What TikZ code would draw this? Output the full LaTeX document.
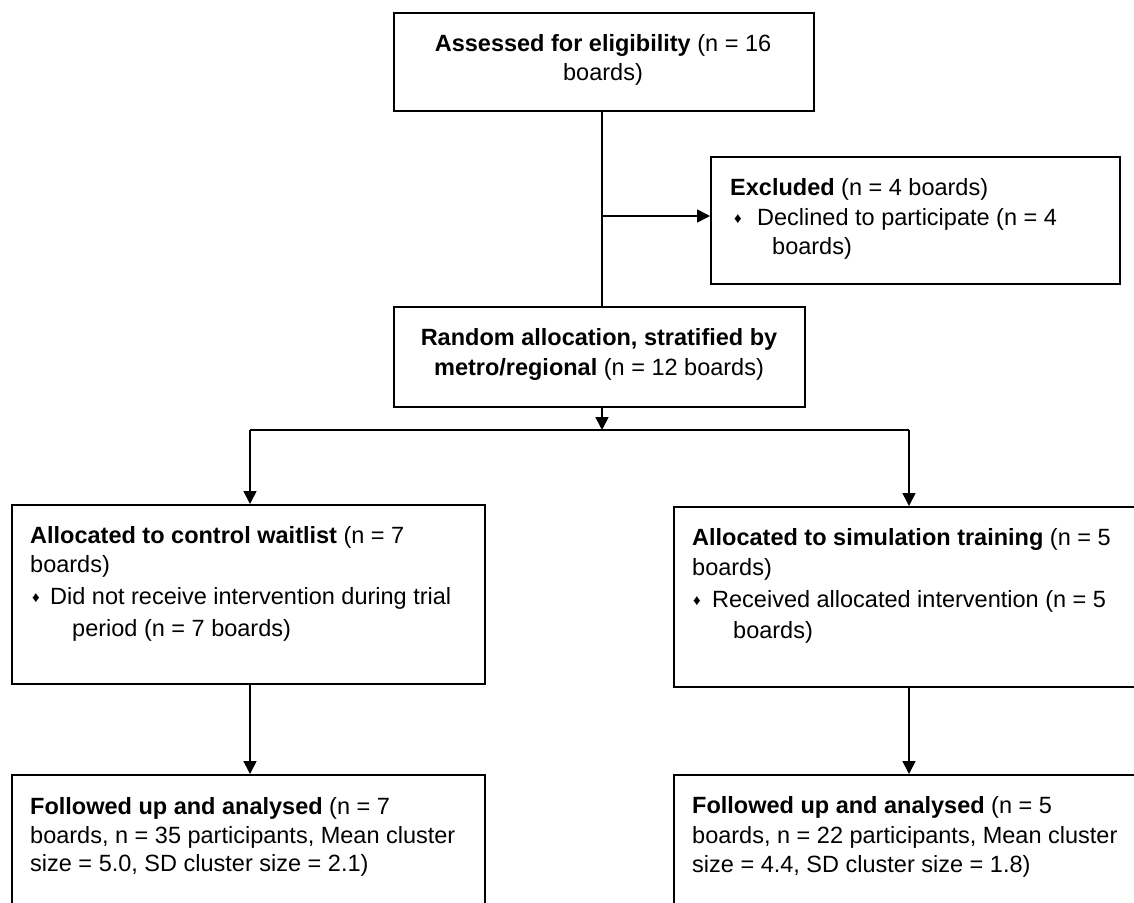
\documentclass[tikz,border=0pt]{standalone}
\usepackage{fontspec}
\setmainfont{Liberation Sans}
\usetikzlibrary{arrows.meta}
\newcommand{\bul}{{\fontsize{15}{15}\selectfont\raisebox{0.2ex}{♦}}}
\begin{document}
\begin{tikzpicture}[x=1pt,y=-1pt,
  box/.style={draw, line width=1.6pt, inner sep=0pt, anchor=north west},
  txt/.style={inner sep=0pt, font=\fontsize{23.5}{29}\selectfont},
  lt/.style={txt, anchor=base west},
  ct/.style={txt, anchor=base},
  ln/.style={line width=1.6pt},
  arr/.style={line width=1.6pt, -{Triangle[length=13pt,width=13pt]}}]
\useasboundingbox (0,0) rectangle (1134,902);
\clip (0,0) rectangle (1134,902);
% boxes
\node[box, minimum width=420pt, minimum height=98pt]  (assess) at (393,12)  {};
\node[box, minimum width=409pt, minimum height=127pt] (excl)   at (710,156) {};
\node[box, minimum width=411pt, minimum height=100pt] (rand)   at (393,306) {};
\node[box, minimum width=473pt, minimum height=179pt] (ctrl)   at (11,504)  {};
\node[box, minimum width=473pt, minimum height=180pt] (sim)    at (673,506) {};
\node[box, minimum width=473pt, minimum height=160pt] (fl)     at (11,774)  {};
\node[box, minimum width=473pt, minimum height=160pt] (fr)     at (673,774) {};
% texts
\node[ct] (t1a) at (603,51.5) {\textbf{Assessed for eligibility} (n = 16};
\node[ct] (t1b) at (603,80.5) {boards)};
\node[lt] (e1) at (730,195.5) {\textbf{Excluded} (n = 4 boards)};
\node[lt] (e2b) at (734,225.5) {\bul};
\node[lt] (e2) at (757,225.5) {Declined to participate (n = 4};
\node[lt] (e3) at (772,254.5) {boards)};
\node[ct] (r1) at (599,345.5) {\textbf{Random allocation, stratified by}};
\node[ct] (r2) at (599,375.5) {\textbf{metro/regional} (n = 12 boards)};
\node[lt] (c1) at (30,543.5) {\textbf{Allocated to control waitlist} (n = 7};
\node[lt] (c2) at (30,572.5) {boards)};
\node[lt] (c3b) at (32,604.5) {\bul};
\node[lt] (c3) at (50,604.5) {Did not receive intervention during trial};
\node[lt] (c4) at (72,636.5) {period (n = 7 boards)};
\node[lt] (s1) at (692,545.5) {\textbf{Allocated to simulation training} (n = 5};
\node[lt] (s2) at (692,575.5) {boards)};
\node[lt] (s3b) at (693,607.5) {\bul};
\node[lt] (s3) at (712,607.5) {Received allocated intervention (n = 5};
\node[lt] (s4) at (733,638.5) {boards)};
\node[lt] (f1) at (30,814.5) {\textbf{Followed up and analysed} (n = 7};
\node[lt] (f2) at (30,843.5) {boards, n = 35 participants, Mean cluster};
\node[lt] (f3) at (30,871.5) {size = 5.0, SD cluster size = 2.1)};
\node[lt] (g1) at (692,813.5) {\textbf{Followed up and analysed} (n = 5};
\node[lt] (g2) at (692,843.5) {boards, n = 22 participants, Mean cluster};
\node[lt] (g3) at (692,872.5) {size = 4.4, SD cluster size = 1.8)};
% connectors
\coordinate (top) at (602,110);
\coordinate (j1) at (602,216);
\coordinate (rb) at (602,406);
\coordinate (split) at (602,430);
\coordinate (sL) at (250,430);
\coordinate (sR) at (909,430);
\draw[ln] (top) -- (top |- rand.north);
\draw[arr] (j1) -- (j1 -| excl.west);
\draw[arr] (rb) -- (split);
\draw[ln] (sL) -- (sR);
\draw[arr] (sL) -- (sL |- ctrl.north);
\draw[arr] (sR) -- (sR |- sim.north);
\draw[arr] (sL |- ctrl.south) -- (sL |- fl.north);
\draw[arr] (sR |- sim.south) -- (sR |- fr.north);
\end{tikzpicture}
\end{document}
